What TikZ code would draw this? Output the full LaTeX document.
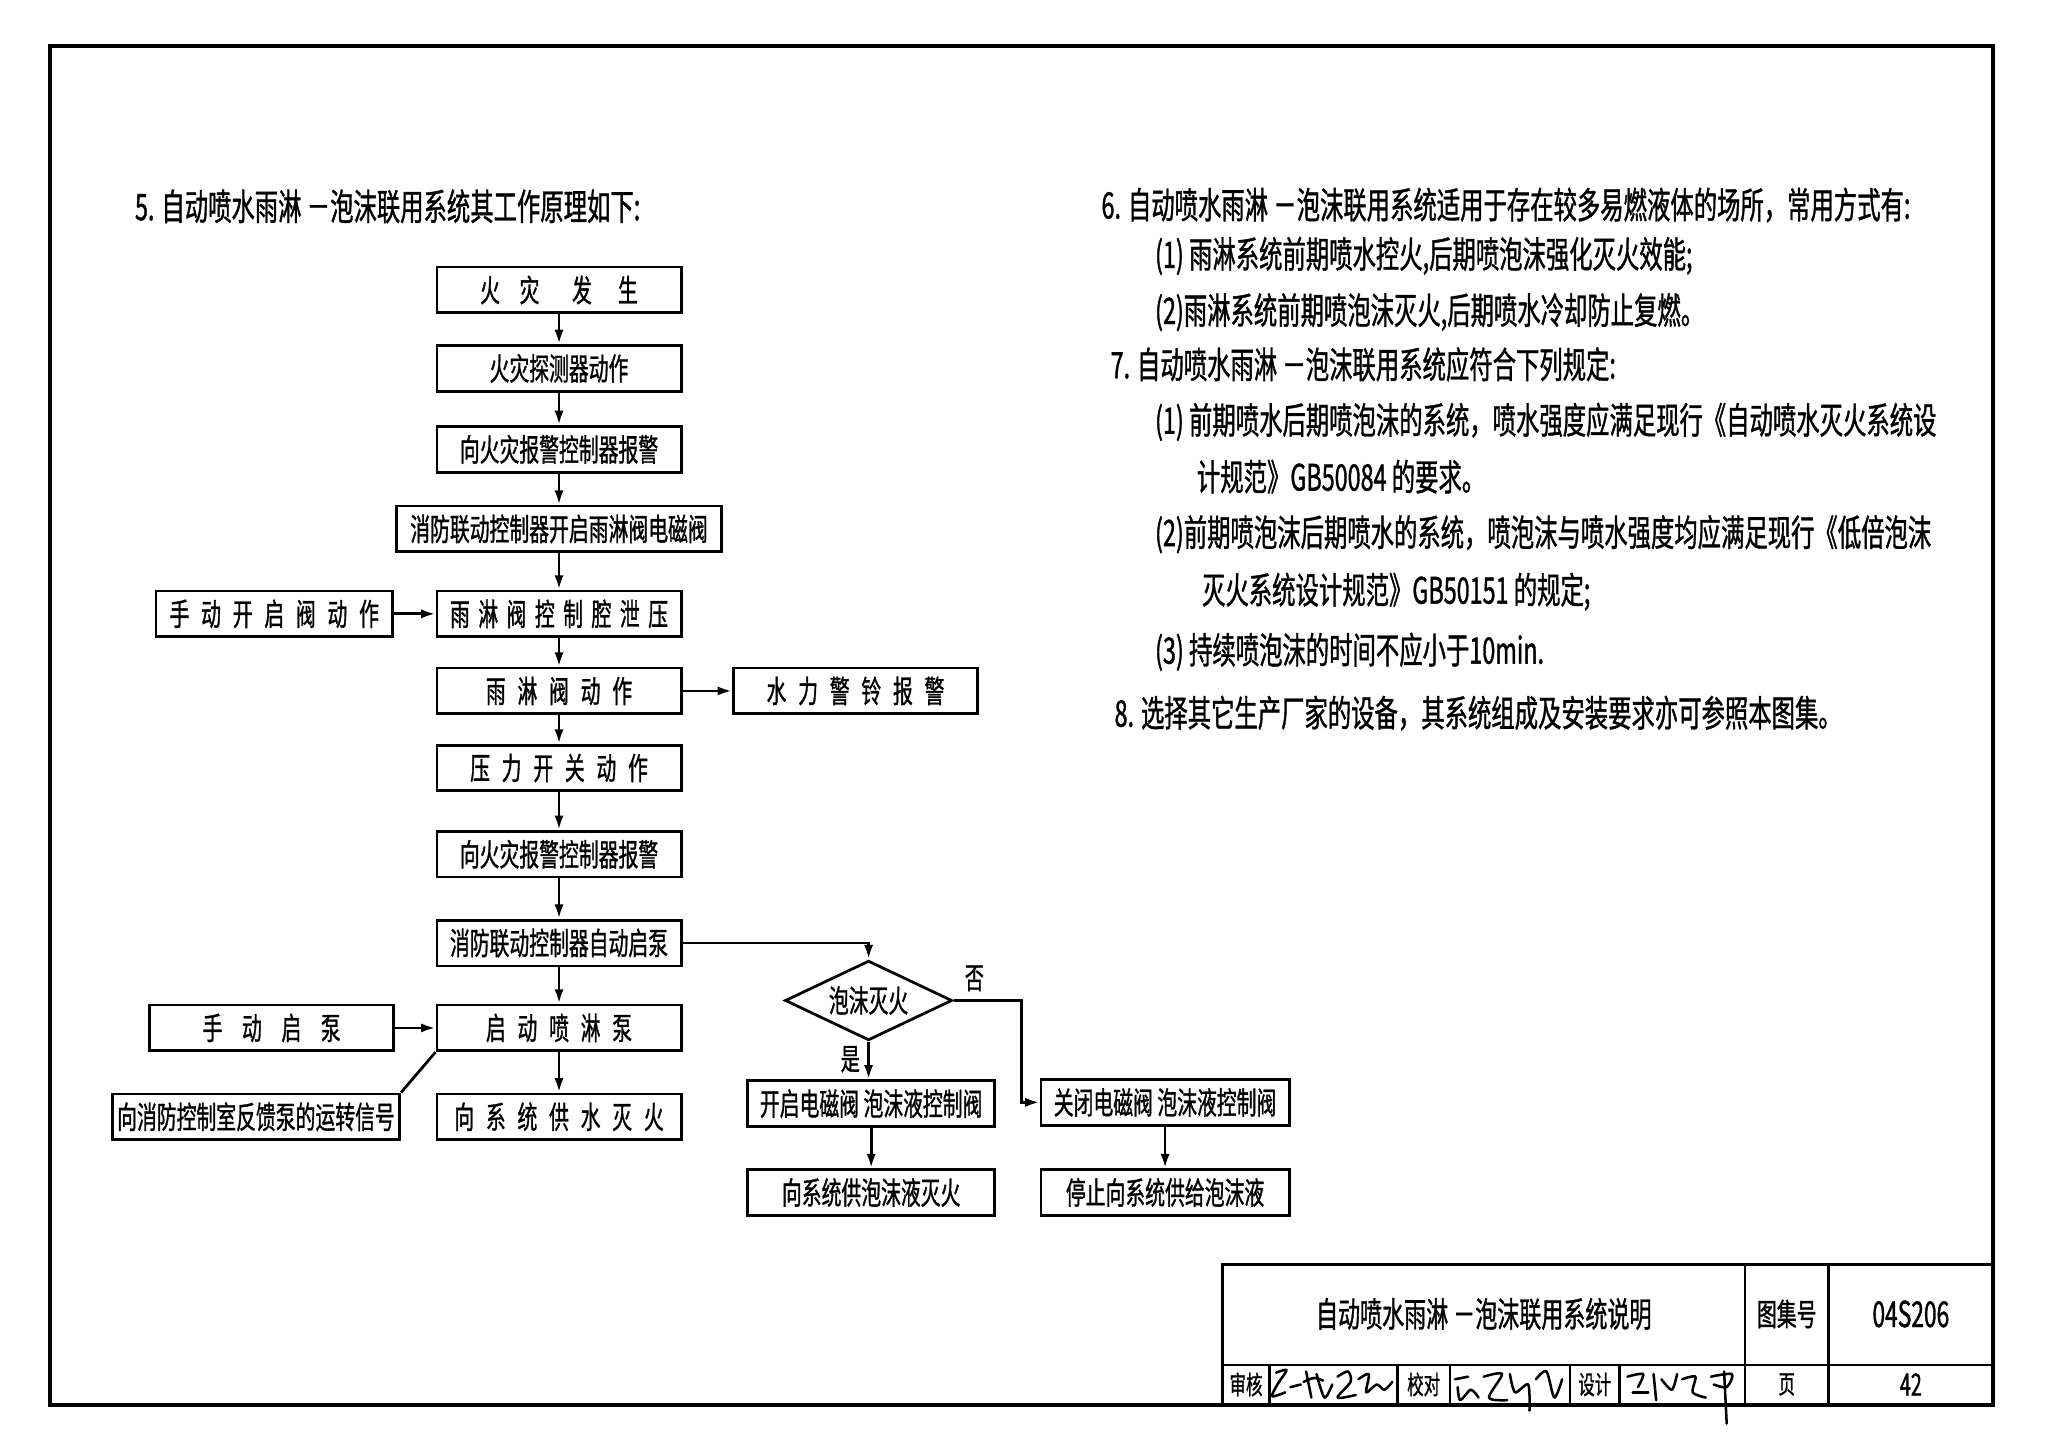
\documentclass[tikz,border=0pt]{standalone}
\usepackage{fontspec}
\setmainfont{Noto Sans CJK SC}[FakeStretch=0.64, FakeBold=1]
\usetikzlibrary{arrows.meta}
\usetikzlibrary{shapes.geometric}
\newcommand{\sk}{\hspace{1.8mm}}
\tikzset{box/.style = {draw, line width = 1.2pt, minimum width = 37.4mm, minimum height = 7mm, inner sep = 0, font = \fontsize{13.5}{15}\selectfont}}
\tikzset{decide/.style = {draw, diamond, aspect = 2, line width = 1.2pt, minimum width = 25.6mm, minimum height = 12.2mm, inner sep = 0, font = \fontsize{13.5}{15}\selectfont}}
\tikzset{flow/.style = {line width = 1.2pt, -{Latex[length = 2.2mm, width = 1.4mm]}}}
\tikzset{link/.style = {line width = 1.2pt}}
\tikzset{note/.style = {anchor = west, inner sep = 0, font = \fontsize{15.9}{18}\selectfont}}
\tikzset{cell/.style = {inner sep = 0, font = \fontsize{11.2}{13}\selectfont}}
\tikzset{sig/.style = {line width = 1.1pt, line cap = round, line join = round}}

\begin{document}
\begin{tikzpicture}[x = 0.2mm, y = -0.2mm]
      \useasboundingbox (0, 0) rectangle (1568, 1106);
      \draw [line width = 1.7pt] (38, 35) rectangle (1526, 1076);

      \node [note, font = \fontsize{15.9}{18}\selectfont] (head) at (103, 158) {5. 自动喷水雨淋 －泡沫联用系统其工作原理如下:};

      \node [box] (fire) at (428, 222) {火\hspace{3mm}灾\hspace{5mm}发\hspace{4mm}生};
      \node [box] (detect) at (428, 282) {火灾探测器动作};
      \node [box] (alarmA) at (428, 344) {向火灾报警控制器报警};
      \node [box, minimum width = 49.8mm] (opensv) at (428, 405) {消防联动控制器开启雨淋阀电磁阀};
      \node [box] (relief) at (428, 470) {雨\hspace{1.3mm}淋\hspace{1.3mm}阀\hspace{1.3mm}控\hspace{1.3mm}制\hspace{1.3mm}腔\hspace{1.3mm}泄\hspace{1.3mm}压};
      \node [box, minimum width = 36.2mm] (manualv) at (210, 470) {手\sk 动\sk 开\sk 启\sk 阀\sk 动\sk 作};
      \node [box] (deluge) at (428, 529) {雨\sk 淋\sk 阀\sk 动\sk 作};
      \node [box] (bell) at (655, 529) {水\sk 力\sk 警\sk 铃\sk 报\sk 警};
      \node [box] (pswitch) at (428, 588) {压\sk 力\sk 开\sk 关\sk 动\sk 作};
      \node [box] (alarmB) at (428, 654) {向火灾报警控制器报警};
      \node [box] (autopump) at (428, 722) {消防联动控制器自动启泵};
      \node [box] (pump) at (428, 787) {启\sk 动\sk 喷\sk 淋\sk 泵};
      \node [box] (manualp) at (208, 787) {手\hspace{3mm}动\hspace{3mm}启\hspace{3mm}泵};
      \node [box, minimum width = 44mm] (feedback) at (196, 855) {向消防控制室反馈泵的运转信号};
      \node [box] (water) at (428, 855) {向\sk 系\sk 统\sk 供\sk 水\sk 灭\sk 火};

      \node [decide] (foam) at (665, 766) {泡沫灭火};
      \node [box, minimum width = 37.8mm] (openf) at (667, 845) {开启电磁阀 泡沫液控制阀};
      \node [box, minimum width = 37.8mm] (foamon) at (667, 913) {向系统供泡沫液灭火};
      \node [box, minimum width = 38mm] (closef) at (892, 844) {关闭电磁阀 泡沫液控制阀};
      \node [box, minimum width = 38mm] (foamoff) at (892, 913) {停止向系统供给泡沫液};
      \node [inner sep = 0, font = \fontsize{13}{15}\selectfont] (no) at (746, 749) {否};
      \node [inner sep = 0, font = \fontsize{13}{15}\selectfont] (yes) at (651, 811) {是};

      \draw [flow] (fire) -- (detect);
      \draw [flow] (detect) -- (alarmA);
      \draw [flow] (alarmA) -- (opensv);
      \draw [flow] (opensv) -- (relief);
      \draw [flow] (manualv) -- (relief);
      \draw [flow] (relief) -- (deluge);
      \draw [flow] (deluge) -- (bell);
      \draw [flow] (deluge) -- (pswitch);
      \draw [flow] (pswitch) -- (alarmB);
      \draw [flow] (alarmB) -- (autopump);
      \draw [flow] (autopump) -- (pump);
      \draw [flow] (manualp) -- (pump);
      \draw [flow] (pump) -- (water);
      \draw [link] (pump.south west) -- (feedback.north east);
      \draw [flow] (autopump.east) -| (foam.north);
      \draw [flow] (foam.south) -- (foam.south |- openf.north);
      \draw [flow] (foam.east) -- ++(52, 0) |- (closef.west);
      \draw [flow] (openf) -- (foamon);
      \draw [flow] (closef) -- (foamoff);

      \node [note] (n6) at (843, 157) {6. 自动喷水雨淋 －泡沫联用系统适用于存在较多易燃液体的场所，常用方式有:};
      \node [note] (n61) at (884, 196) {(1) 雨淋系统前期喷水控火,后期喷泡沫强化灭火效能;};
      \node [note] (n62) at (884, 239) {(2)雨淋系统前期喷泡沫灭火,后期喷水冷却防止复燃。};
      \node [note] (n7) at (850, 279) {7. 自动喷水雨淋 －泡沫联用系统应符合下列规定:};
      \node [note] (n71) at (884, 323) {(1) 前期喷水后期喷泡沫的系统，喷水强度应满足现行《自动喷水灭火系统设};
      \node [note] (n71b) at (916, 365) {计规范》GB50084 的要求。};
      \node [note] (n72) at (884, 409) {(2)前期喷泡沫后期喷水的系统，喷泡沫与喷水强度均应满足现行《低倍泡沫};
      \node [note] (n72b) at (920, 453) {灭火系统设计规范》GB50151 的规定;};
      \node [note] (n73) at (884, 499) {(3) 持续喷泡沫的时间不应小于10min.};
      \node [note] (n8) at (853, 546) {8. 选择其它生产厂家的设备，其系统组成及安装要求亦可参照本图集。};

      \draw [line width = 1.5pt] (936, 1076) -- (936, 968) -- (1526, 968);
      \draw [line width = 1.2pt] (936, 1045) -- (1526, 1045);
      \draw [line width = 1.2pt] (1336, 968) -- (1336, 1076);
      \draw [line width = 1.2pt] (1400, 968) -- (1400, 1076);
      \foreach \cx in {972, 1070, 1110, 1202, 1240}
        \draw [line width = 1pt] (\cx, 1045) -- (\cx, 1076);
      \node [inner sep = 0, font = \fontsize{15}{17}\selectfont] (title) at (1136, 1006) {自动喷水雨淋 －泡沫联用系统说明};
      \node [inner sep = 0, font = \fontsize{13.5}{15}\selectfont] (atlas) at (1368, 1006) {图集号};
      \node [inner sep = 0, font = \fontsize{15.5}{18}\selectfont] (atlasno) at (1463, 1006) {04S206};
      \node [cell] (check) at (954, 1060) {审核};
      \node [cell] (proof) at (1090, 1060) {校对};
      \node [cell] (design) at (1221, 1060) {设计};
      \node [cell] (pg) at (1368, 1060) {页};
      \node [cell, font = \fontsize{13.5}{15}\selectfont] (pgno) at (1463, 1060) {42};

      \draw [sig] plot [smooth] coordinates {(977, 1051) (985, 1049) (978, 1060) (974, 1069) (984, 1066)};
      \draw [sig] (988, 1062) -- (996, 1060);
      \draw [sig] plot [smooth] coordinates {(1000, 1050) (1004, 1070)};
      \draw [sig] plot [smooth] coordinates {(998, 1058) (1006, 1055) (1013, 1057)};
      \draw [sig] plot [smooth] coordinates {(1008, 1052) (1014, 1070) (1020, 1060)};
      \draw [sig] plot [smooth] coordinates {(1024, 1054) (1032, 1050) (1034, 1058) (1024, 1070) (1038, 1068)};
      \draw [sig] plot [smooth] coordinates {(1040, 1056) (1048, 1052) (1046, 1066) (1054, 1060) (1060, 1064) (1066, 1058)};
      \draw [sig] plot [smooth] coordinates {(1114, 1056) (1124, 1054)};
      \draw [sig] plot [smooth] coordinates {(1116, 1062) (1118, 1072) (1126, 1064) (1132, 1070)};
      \draw [sig] plot [smooth] coordinates {(1136, 1054) (1150, 1052) (1140, 1070) (1154, 1072)};
      \draw [sig] plot [smooth] coordinates {(1156, 1052) (1160, 1066) (1170, 1060) (1171, 1080)};
      \draw [sig] plot [smooth] coordinates {(1176, 1056) (1184, 1050) (1190, 1070) (1196, 1056)};
      \draw [sig] plot [smooth] coordinates {(1246, 1054) (1258, 1052) (1254, 1062)};
      \draw [sig] (1250, 1066) -- (1262, 1066);
      \draw [sig] (1266, 1052) -- (1268, 1072);
      \draw [sig] plot [smooth] coordinates {(1272, 1056) (1280, 1064) (1284, 1052)};
      \draw [sig] plot [smooth] coordinates {(1288, 1056) (1298, 1054) (1296, 1066) (1306, 1070)};
      \draw [sig] plot [smooth] coordinates {(1310, 1054) (1326, 1052) (1322, 1062) (1312, 1060)};
      \draw [sig] (1320, 1050) -- (1322, 1090);
    \end{tikzpicture}
\end{document}
